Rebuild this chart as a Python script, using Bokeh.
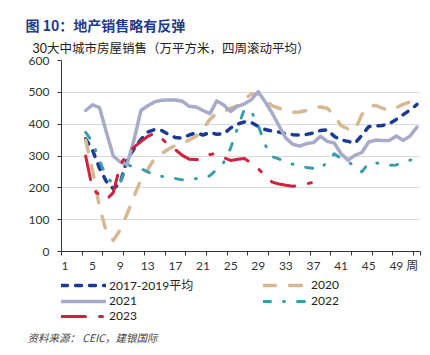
from bokeh.plotting import figure
from bokeh.layouts import column
from bokeh.models import FixedTicker, Legend, LegendItem, Range1d, Title, Div
from bokeh.embed import file_html
from bokeh.resources import INLINE

# ---- data (weekly, 4-week rolling average, 10k sqm) ----
weeks = list(range(4, 53))

avg_2017_2019 = [354, 318, 262, 220, 197, 215, 290, 322, 352, 375, 383, 380, 368, 358, 356,
                 366, 373, 366, 374, 368, 370, 388, 400, 407, 405, 393, 383, 378, 375, 370,
                 367, 366, 368, 372, 380, 382, 362, 350, 346, 340, 365, 392, 394, 396, 402,
                 415, 430, 445, 462]
y2020 = [350, 255, 140, 62, 35, 68, 118, 172, 226, 258, 293, 307, 322, 333, 340,
         350, 362, 385, 415, 435, 440, 450, 458, 480, 494, 496, 478, 458, 450, 443,
         437, 438, 443, 452, 454, 450, 428, 395, 385, 380, 430, 455, 459, 450, 443,
         452, 462, 470, 475]
y2021 = [443, 461, 452, 375, 300, 281, 273, 350, 443, 458, 470, 475, 476, 476, 472,
         456, 454, 443, 433, 473, 460, 440, 456, 464, 477, 502, 470, 435, 395, 356,
         337, 331, 339, 342, 362, 346, 341, 307, 287, 302, 311, 344, 350, 349, 349,
         363, 349, 363, 391]
y2022 = [374, 345, 285, 235, 213, 215, 272, 266, 260, 250, 240, 236, 232, 229, 225,
         228, 229, 230, 238, 258, 280, 325, 388, 447, 440, 396, 335, 298, 291, 280,
         274, 270, 264, 261, 259, 282, 307, 292, 282, 268, 250, 278, 279, 274, 271,
         272, 280, 287, 291]
y2023 = [300, 195, 178, 163, 185, 272, 305, 328, 345, 362, 372, 355, 335, 320, 302,
         290, 289, 290, 305, 308, 295, 286, 290, 292, 278, 260, 238, 218, 212, 208,
         205, 208, 213, 217, 220]

series_names = ["2017-2019平均", "2020", "2021", "2022", "2023"]
tick_weeks = [1, 5, 9, 13, 17, 21, 25, 29, 33, 37, 41, 45, 49, 51.3]
tick_labels = {51.3: "周"}
minor_marks = [0.5 + 3 * k for k in range(18)] + [52.5]
y_ticks = [0, 100, 200, 300, 400, 500, 600]

title_text = "图 10：地产销售略有反弹"
subtitle_text = "30大中城市房屋销售（万平方米，四周滚动平均）"
source_text = "资料来源：  CEIC，建银国际"

NAVY = "#1b3a93"
TAN = "#d6b993"
GRAY = "#a7abc8"
TEAL = "#3a9eaa"
RED = "#d0213e"
RULE = "#7689cb"
FONT = "Lato, 'Noto Sans CJK SC'"

styles = {
    "2017-2019平均": dict(line_color=NAVY, line_width=3.5, line_dash="6 8"),
    "2020": dict(line_color=TAN, line_width=3.5, line_dash="12 14"),
    "2021": dict(line_color=GRAY, line_width=3.5),
    "2022": dict(line_color=TEAL, line_width=3, line_dash="7 13 1 13"),
    "2023": dict(line_color=RED, line_width=3, line_dash="24 14 3 14"),
}

# ---------------- top rule ----------------
rule = Div(text=('<div style="margin:3px 0 0 22px;width:408px;height:2px;'
                 'background:%s;"></div>' % RULE),
           width=430, height=5, margin=0)

# ---------------- main chart ----------------
p = figure(width=430, height=271, output_backend="svg", toolbar_location=None,
           x_range=Range1d(0.5, 52.5), y_range=Range1d(0, 600),
           min_border_left=61, min_border_right=10, min_border_top=55,
           min_border_bottom=25, title=None)
p.outline_line_color = None
p.background_fill_color = "white"
p.border_fill_color = "white"

p.add_layout(Title(text=subtitle_text, align="left", offset=-29, standoff=9,
                   text_font=FONT, text_font_size="12.5px", text_font_style="normal",
                   text_color="#222222"), "above")
p.add_layout(Title(text=title_text, align="left", offset=-36, standoff=0,
                   text_font="Noto Sans CJK SC", text_font_size="14px",
                   text_font_style="bold", text_color="#1f3b8c"), "above")

xa = p.xaxis[0]
xa.ticker = FixedTicker(ticks=tick_weeks, minor_ticks=minor_marks)
xa.major_label_overrides = tick_labels
xa.major_tick_line_color = None
xa.minor_tick_line_color = "#333333"
xa.minor_tick_out = 4
xa.minor_tick_in = 0
xa.axis_line_color = "#333333"
xa.major_label_text_font = FONT
xa.major_label_text_font_size = "12px"
xa.major_label_text_color = "#333333"
xa.major_label_standoff = 0

ya = p.yaxis[0]
ya.ticker = FixedTicker(ticks=y_ticks)
ya.major_tick_out = 4
ya.major_tick_in = 0
ya.major_tick_line_color = "#333333"
ya.minor_tick_line_color = None
ya.axis_line_color = "#333333"
ya.major_label_text_font = FONT
ya.major_label_text_font_size = "12px"
ya.major_label_text_color = "#333333"
ya.major_label_standoff = 8

p.xgrid.grid_line_color = None
p.ygrid.grid_line_color = "#d9d9d9"
p.ygrid.grid_line_width = 1

series = [avg_2017_2019, y2020, y2021, y2022, y2023]
for name, ys in zip(series_names, series):
    p.line(weeks[:len(ys)], ys, line_cap="round", line_join="round", **styles[name])

# ---------------- footer: legend + source ----------------
foot = figure(width=430, height=79, output_backend="svg", toolbar_location=None,
              x_range=Range1d(0, 1), y_range=Range1d(0, 1),
              x_axis_type=None, y_axis_type=None,
              min_border_left=0, min_border_right=0, min_border_top=0,
              min_border_bottom=30)
foot.outline_line_color = None
foot.xgrid.visible = False
foot.ygrid.visible = False

leg_r = {}
for name in series_names:
    # style holders for the legend (no visible data)
    leg_r[name] = foot.line(x=[0.5], y=[float("nan")], line_cap="round", **styles[name])

order = ["2017-2019平均", "2021", "2023", "2020", "2022"]
legend = Legend(items=[LegendItem(label=n, renderers=[leg_r[n]]) for n in order],
                ncols=2, orientation="vertical", location="top_left")
legend.glyph_width = 45
legend.glyph_height = 12
legend.label_standoff = 3
legend.label_width = 154
legend.label_height = 12
legend.spacing = 0
legend.padding = 0
legend.margin = 0
legend.border_line_color = None
legend.background_fill_alpha = 0
legend.label_text_font = FONT
legend.label_text_font_size = "12px"
legend.label_text_color = "#222222"
foot.add_layout(legend, "center")

foot.add_layout(Title(text=source_text, align="left", offset=-34, standoff=4,
                      text_font="Noto Sans CJK SC", text_font_size="10.5px",
                      text_font_style="italic", text_color="#444444"), "below")

page = column(rule, p, foot, spacing=0)
open("out.html", "w").write(file_html(page, INLINE))
